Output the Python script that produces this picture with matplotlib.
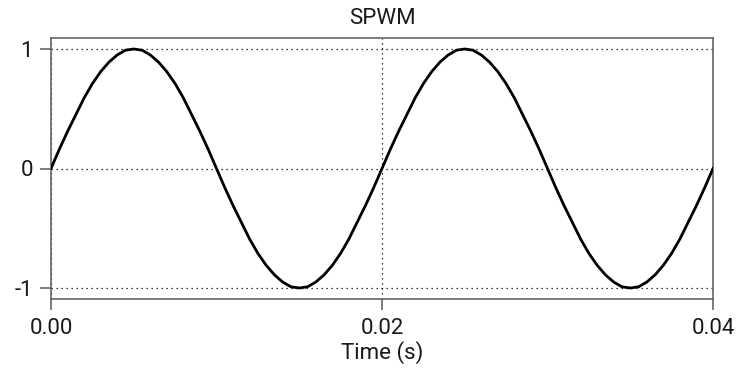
import matplotlib.pyplot as plt

# time samples (s), every 0.5 ms over two periods
time_s = [i * 0.0005 for i in range(81)]

# signal values
signal = [
    0.00, 0.16, 0.31, 0.45, 0.59, 0.71, 0.81, 0.89, 0.95, 0.99,
    1.00, 0.99, 0.95, 0.89, 0.81, 0.71, 0.59, 0.45, 0.31, 0.16,
    0.00, -0.16, -0.31, -0.45, -0.59, -0.71, -0.81, -0.89, -0.95, -0.99,
    -1.00, -0.99, -0.95, -0.89, -0.81, -0.71, -0.59, -0.45, -0.31, -0.16,
    0.00, 0.16, 0.31, 0.45, 0.59, 0.71, 0.81, 0.89, 0.95, 0.99,
    1.00, 0.99, 0.95, 0.89, 0.81, 0.71, 0.59, 0.45, 0.31, 0.16,
    0.00, -0.16, -0.31, -0.45, -0.59, -0.71, -0.81, -0.89, -0.95, -0.99,
    -1.00, -0.99, -0.95, -0.89, -0.81, -0.71, -0.59, -0.45, -0.31, -0.16,
    0.00,
]

x_ticks = [0.00, 0.02, 0.04]
x_labels = ['0.00', '0.02', '0.04']
y_ticks = [-1, 0, 1]
y_labels = ['-1', '0', '1']

plt.rcParams['font.family'] = ['Roboto', 'DejaVu Sans']

fig = plt.figure(figsize=(7.38, 3.75), dpi=100)
ax = fig.add_axes([51 / 738, 1 - 299 / 375, 662 / 738, 261 / 375])

ax.plot(time_s, signal, color='black', linewidth=2.0, zorder=3)

ax.set_xlim(0, 0.04)
ax.set_ylim(-1.092, 1.092)
ax.set_xticks(x_ticks)
ax.set_xticklabels(x_labels)
ax.set_yticks(y_ticks)
ax.set_yticklabels(y_labels)

ax.grid(True, color='black', linestyle=(0, (1, 3)), linewidth=0.9)

for s in ax.spines.values():
    s.set_color('#666666')
    s.set_linewidth(1.2)
ax.tick_params(direction='out', length=8, width=1.2, color='#666666',
               labelsize=16, labelcolor='#1a1a1a')
ax.tick_params(axis='x', pad=6)
ax.tick_params(axis='y', pad=5)

ax.set_title('SPWM', fontsize=16, color='#1a1a1a', pad=10)
ax.set_xlabel('Time (s)', fontsize=16, color='#1a1a1a', labelpad=1)

fig.savefig('out.png', dpi=100)
